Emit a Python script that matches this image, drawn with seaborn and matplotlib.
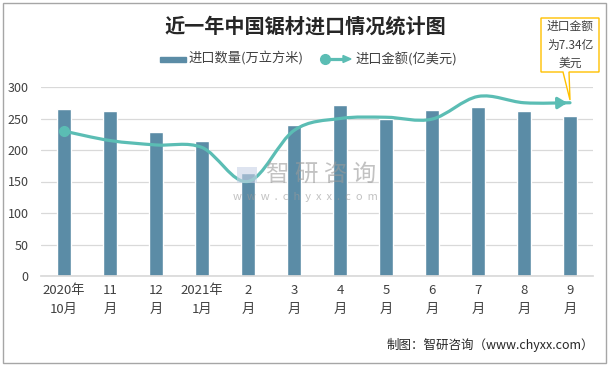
import numpy as np
import pandas as pd
import matplotlib
matplotlib.use('Agg')
import matplotlib.pyplot as plt
import seaborn as sns
from matplotlib.path import Path
from matplotlib.patches import PathPatch, Rectangle, Polygon
from matplotlib.lines import Line2D

months = ['2020年\n10月', '11\n月', '12\n月', '2021年\n1月', '2\n月', '3\n月',
          '4\n月', '5\n月', '6\n月', '7\n月', '8\n月', '9\n月']
qty = [265, 262, 229, 214, 164, 240, 271, 250, 263, 268, 262, 254]
amount = [230, 215, 208, 204, 150, 231, 250, 252, 249, 285, 275, 275]

bar_color = '#5b8ca6'
line_color = '#5bbdb4'

sns.set_theme(style='white')
plt.rcParams['font.family'] = ['Noto Sans CJK SC', 'DejaVu Sans']

fig = plt.figure(figsize=(6.12, 3.67), dpi=100)
ax = fig.add_axes([41 / 612, 91 / 367, 552 / 612, 189 / 367])

df = pd.DataFrame({'month': months, 'qty': qty})
sns.barplot(data=df, x='month', y='qty', color=bar_color, width=0.3,
            saturation=1, ax=ax, zorder=2)

# smooth curve (Excel style) through the amount points, as cubic Bezier pieces
pts = np.column_stack([np.arange(len(amount)), amount]).astype(float)
verts = [pts[0]]
codes = [Path.MOVETO]
t = 1 / 6
for i in range(len(pts) - 1):
    p0 = pts[max(i - 1, 0)]
    p1 = pts[i]
    p2 = pts[i + 1]
    p3 = pts[min(i + 2, len(pts) - 1)]
    verts += [p1 + (p2 - p0) * t, p2 - (p3 - p1) * t, p2]
    codes += [Path.CURVE4] * 3
ax.add_patch(PathPatch(Path(verts, codes), fill=False, edgecolor=line_color,
                       lw=2.3, zorder=3, capstyle='round'))
ax.plot([0], [amount[0]], 'o', color=line_color, ms=7, zorder=4)
ax.annotate('', xy=(11, amount[-1]), xytext=(10.8, amount[-1] - 0.3),
            arrowprops=dict(arrowstyle='-|>,head_length=0.45,head_width=0.28',
                            color=line_color, lw=2.3), zorder=4)

ax.set_xlim(-0.5, 11.5)
ax.set_ylim(0, 300)
ax.set_yticks(range(0, 301, 50))
ax.yaxis.grid(True, color='#d9d9d9', lw=0.9, zorder=0)
ax.set_axisbelow(True)
for s in ['top', 'right', 'left']:
    ax.spines[s].set_visible(False)
ax.spines['bottom'].set_color('#d9d9d9')
ax.set_xlabel('')
ax.set_ylabel('')
ax.tick_params(axis='y', labelsize=9, labelcolor='#404040', length=0, pad=9)
ax.tick_params(axis='x', labelsize=9.5, labelcolor='#404040', length=0, pad=6)
for lab in ax.get_xticklabels():
    lab.set_linespacing(1.6)

# title
fig.text(305 / 612, 1 - 26 / 367, '近一年中国锯材进口情况统计图', ha='center', va='center',
         fontsize=14.5, fontweight='bold', color='#262626')

# legend, drawn by hand to get the dot-to-arrow line sample
fig.patches.append(Rectangle((160 / 612, 1 - 61.5 / 367), 26 / 612, 5 / 367,
                             transform=fig.transFigure, color=bar_color, figure=fig))
fig.text(188 / 612, 1 - 59 / 367, '进口数量(万立方米)', ha='left', va='center',
         fontsize=9.5, color='#404040')
fig.lines.append(Line2D([325 / 612, 344 / 612], [1 - 59 / 367] * 2, color=line_color, lw=2.3,
                        transform=fig.transFigure, figure=fig))
fig.lines.append(Line2D([325 / 612], [1 - 59 / 367], marker='o', ms=7, color=line_color,
                        transform=fig.transFigure, figure=fig))
fig.patches.append(Polygon([(343 / 612, 1 - 55.5 / 367), (351 / 612, 1 - 59 / 367),
                            (343 / 612, 1 - 62.5 / 367)], closed=True, color=line_color,
                           transform=fig.transFigure, figure=fig))
fig.text(355 / 612, 1 - 59 / 367, '进口金额(亿美元)', ha='left', va='center',
         fontsize=9.5, color='#404040')

# callout box
box_color = '#ffc000'
fig.patches.append(Polygon([(541 / 612, 1 - 18 / 367), (599 / 612, 1 - 18 / 367),
                            (599 / 612, 1 - 72 / 367), (569 / 612, 1 - 72 / 367),
                            (570 / 612, 1 - 100 / 367), (563 / 612, 1 - 72 / 367),
                            (541 / 612, 1 - 72 / 367)], closed=True, facecolor='white',
                           edgecolor=box_color, lw=1.0, transform=fig.transFigure,
                           figure=fig, zorder=5))
fig.text(570 / 612, 1 - 45 / 367, '进口金额\n为7.34亿\n美元', ha='center', va='center',
         fontsize=8.5, color='#404040', linespacing=1.55, zorder=6)

# watermark
fig.patches.append(Rectangle((237 / 612, 1 - 183 / 367), 20 / 612, 16 / 367,
                             transform=fig.transFigure, facecolor='#c8d3e6', alpha=0.6,
                             edgecolor='none', figure=fig, zorder=5))
fig.text(321 / 612, 1 - 175 / 367, '智 研 咨 询', ha='center', va='center', fontsize=17,
         color='#9a9a9a', alpha=0.6, zorder=6)
fig.text(305 / 612, 1 - 197 / 367, 'w  w  w  .  c  h  y  x  x  .  c  o  m', ha='center',
         va='center', fontsize=8, color='#9a9a9a', alpha=0.6, zorder=6)

# source
fig.text(594 / 612, 1 - 345 / 367, '制图：智研咨询（www.chyxx.com）', ha='right', va='center',
         fontsize=9.0, color='#262626')

# outer frame
fig.patches.append(Rectangle((3 / 612, 4 / 367), 603 / 612, 360 / 367, fill=False,
                             edgecolor='#a6a6a6', lw=1.0, transform=fig.transFigure,
                             figure=fig))

fig.savefig('out.png', dpi=100)
